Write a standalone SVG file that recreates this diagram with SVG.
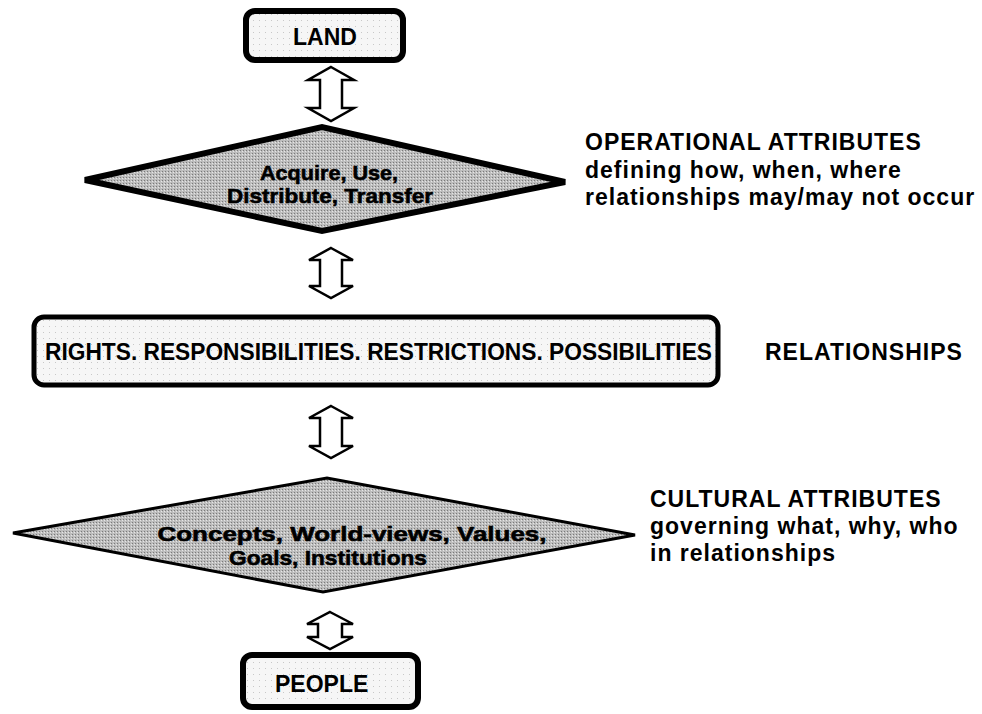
<svg xmlns="http://www.w3.org/2000/svg" width="982" height="714" viewBox="0 0 982 714">
<defs>
<pattern id="dots" width="3" height="3" patternUnits="userSpaceOnUse">
<rect width="3" height="3" fill="#bdbdbd"/>
<rect x="0" y="0" width="1" height="1" fill="#7a7a7a"/>
<rect x="2" y="1" width="1" height="1" fill="#e6e6e6"/>
</pattern>
<pattern id="light" width="6" height="6" patternUnits="userSpaceOnUse">
<rect width="6" height="6" fill="#f6f6f6"/>
<rect x="1" y="2" width="1" height="1" fill="#c8c8c8"/>
</pattern>
</defs>
<style>
.box{fill:url(#light);stroke:#000;stroke-width:6}
.rel{fill:url(#light);stroke:#000;stroke-width:5}
.dia1{fill:url(#dots);stroke:#000;stroke-width:6;stroke-linejoin:miter}
.dia2{fill:url(#dots);stroke:#000;stroke-width:3;stroke-linejoin:miter}
.arr{fill:#fff;stroke:#000;stroke-width:2.5;stroke-linejoin:miter}
text{font-family:"Liberation Sans",Arial,sans-serif;font-weight:bold;fill:#000}
.big{font-size:23px}
.dt{font-size:21px;text-anchor:middle;stroke:#000;stroke-width:0.6}
.side{font-size:23px;letter-spacing:1px}
</style>
<rect width="982" height="714" fill="#fff"/>
<g id="connectors">
<path class="arr" d="M331,67 L354,80 L342,80 L342,108 L354,108 L331,121 L308,108 L320,108 L320,80 L308,80 Z"/>
<path class="arr" d="M331,248 L353,260 L342,260 L342,286 L353,286 L331,298 L309,286 L320,286 L320,260 L309,260 Z"/>
<path class="arr" d="M331,406 L353,418 L342,418 L342,446 L353,446 L331,458 L309,446 L320,446 L320,418 L309,418 Z"/>
<path class="arr" d="M330,612 L353,624 L342,624 L342,637 L353,637 L330,649 L307,637 L318,637 L318,624 L307,624 Z"/>
</g>
<g id="land">
<rect class="box" x="246" y="11" width="157" height="49" rx="9"/>
<text class="big" x="293" y="45">LAND</text>
</g>
<g id="operational">
<polygon class="dia1" points="85,180 322,127 565,182 322,231"/>
<text class="dt" x="329" y="180" textLength="138" lengthAdjust="spacingAndGlyphs">Acquire, Use,</text>
<text class="dt" x="330" y="203" textLength="206" lengthAdjust="spacingAndGlyphs">Distribute, Transfer</text>
</g>
<g id="operational-label">
<text class="side" x="585" y="150">OPERATIONAL ATTRIBUTES</text>
<text class="side" x="585" y="178">defining how, when, where</text>
<text class="side" x="585" y="205">relationships may/may not occur</text>
</g>
<g id="relationships">
<rect class="rel" x="34" y="317" width="684" height="68" rx="10"/>
<text class="big" x="45" y="360" textLength="667" lengthAdjust="spacingAndGlyphs">RIGHTS. RESPONSIBILITIES. RESTRICTIONS. POSSIBILITIES</text>
</g>
<g id="relationships-label">
<text class="side" x="765" y="360">RELATIONSHIPS</text>
</g>
<g id="cultural">
<polygon class="dia2" points="13,533 327,478 635,535 323,592"/>
<text class="dt" x="352" y="541" textLength="389" lengthAdjust="spacingAndGlyphs">Concepts, World-views, Values,</text>
<text class="dt" x="328" y="565" textLength="198" lengthAdjust="spacingAndGlyphs">Goals, Institutions</text>
</g>
<g id="cultural-label">
<text class="side" x="650" y="507">CULTURAL ATTRIBUTES</text>
<text class="side" x="650" y="534">governing what, why, who</text>
<text class="side" x="650" y="561">in relationships</text>
</g>
<g id="people">
<rect class="box" x="243" y="655" width="175" height="52" rx="9"/>
<text class="big" x="275" y="692">PEOPLE</text>
</g>
</svg>
